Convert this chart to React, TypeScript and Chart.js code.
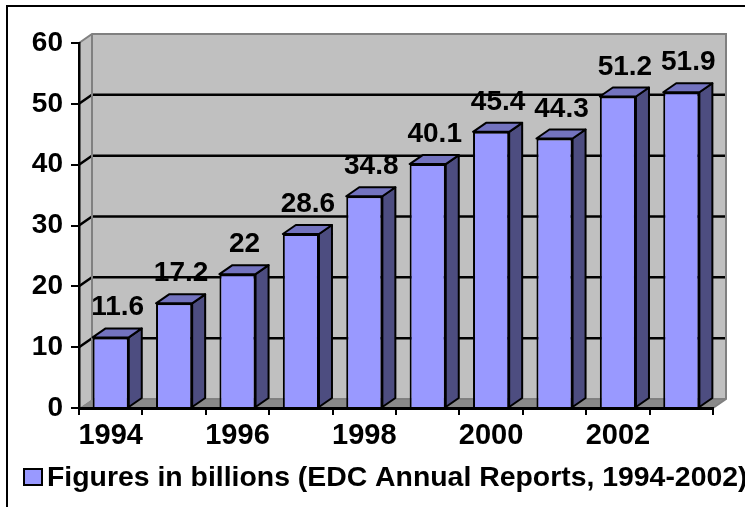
import React, { useEffect, useRef } from "react";
import { Chart, registerables } from "chart.js";

Chart.register(...registerables);

const years = ["1994", "1995", "1996", "1997", "1998", "1999", "2000", "2001", "2002", "2003"];
const values = [11.6, 17.2, 22, 28.6, 34.8, 40.1, 45.4, 44.3, 51.2, 51.9];
const valueLabels = ["11.6", "17.2", "22", "28.6", "34.8", "40.1", "45.4", "44.3", "51.2", "51.9"];
const yTicks = [0, 10, 20, 30, 40, 50, 60];
const seriesLabel = "Figures in billions (EDC Annual Reports, 1994-2002)";

const DX = 13;
const DY = -9;
const FONT = "'Liberation Sans', Arial, sans-serif";
const FRONT = "#9999FF";
const TOP = "#7373BF";
const SIDE = "#4D4D80";
const WALL = "#C0C0C0";
const WALL_EDGE = "#808080";
const FLOOR = "#8A8A8A";

const scenePlugin = {
  id: "scene3d",
  beforeDraw(chart: any) {
    const ctx = chart.ctx;
    const { left, right, top, bottom } = chart.chartArea;
    const yScale = chart.scales.y;
    ctx.save();
    ctx.fillStyle = "#fff";
    ctx.fillRect(0, 0, chart.width, chart.height);
    // outer frame
    ctx.strokeStyle = "#000";
    ctx.lineWidth = 2;
    ctx.beginPath();
    ctx.moveTo(7, chart.height + 5);
    ctx.lineTo(7, 6);
    ctx.lineTo(chart.width + 5, 6);
    ctx.stroke();
    // left wall
    ctx.fillStyle = WALL;
    ctx.beginPath();
    ctx.moveTo(left, top);
    ctx.lineTo(left + DX, top + DY);
    ctx.lineTo(left + DX, bottom + DY);
    ctx.lineTo(left, bottom);
    ctx.closePath();
    ctx.fill();
    // back wall
    ctx.fillRect(left + DX, top + DY, right - left, bottom - top);
    // floor
    ctx.fillStyle = FLOOR;
    ctx.beginPath();
    ctx.moveTo(left, bottom);
    ctx.lineTo(left + DX, bottom + DY);
    ctx.lineTo(right + DX, bottom + DY);
    ctx.lineTo(right, bottom);
    ctx.closePath();
    ctx.fill();
    // gridlines
    ctx.strokeStyle = "#000";
    ctx.lineWidth = 2.5;
    yTicks.forEach((v) => {
      if (v === yTicks[0] || v === yTicks[yTicks.length - 1]) return;
      const py = yScale.getPixelForValue(v);
      ctx.beginPath();
      ctx.moveTo(left, py);
      ctx.lineTo(left + DX, py + DY);
      ctx.lineTo(right + DX, py + DY);
      ctx.stroke();
    });
    // wall edges
    ctx.strokeStyle = WALL_EDGE;
    ctx.lineWidth = 2;
    ctx.beginPath();
    ctx.moveTo(left, top);
    ctx.lineTo(left + DX, top + DY);
    ctx.lineTo(right + DX, top + DY);
    ctx.lineTo(right + DX, bottom + DY);
    ctx.lineTo(right, bottom);
    ctx.stroke();
    ctx.beginPath();
    ctx.moveTo(left + DX, top + DY);
    ctx.lineTo(left + DX, bottom + DY);
    ctx.lineTo(right + DX, bottom + DY);
    ctx.stroke();
    ctx.restore();
  },
  afterDatasetsDraw(chart: any) {
    const ctx = chart.ctx;
    const meta = chart.getDatasetMeta(0);
    ctx.save();
    ctx.lineWidth = 2;
    ctx.lineJoin = "round";
    ctx.strokeStyle = "#000";
    meta.data.forEach((bar: any) => {
      const p = bar.getProps(["x", "y", "base", "width"], true);
      const l = p.x - p.width / 2;
      const r = p.x + p.width / 2;
      const t = p.y;
      const b = p.base;
      // side
      ctx.fillStyle = SIDE;
      ctx.beginPath();
      ctx.moveTo(r, t);
      ctx.lineTo(r + DX, t + DY);
      ctx.lineTo(r + DX, b + DY);
      ctx.lineTo(r, b);
      ctx.closePath();
      ctx.fill();
      ctx.stroke();
      // top
      ctx.fillStyle = TOP;
      ctx.beginPath();
      ctx.moveTo(l, t);
      ctx.lineTo(l + DX, t + DY);
      ctx.lineTo(r + DX, t + DY);
      ctx.lineTo(r, t);
      ctx.closePath();
      ctx.fill();
      ctx.stroke();
    });
    // data labels
    ctx.fillStyle = "#000";
    ctx.font = `bold 28px ${FONT}`;
    ctx.textAlign = "center";
    ctx.textBaseline = "alphabetic";
    meta.data.forEach((bar: any, i: number) => {
      const p = bar.getProps(["x", "y"], true);
      ctx.fillText(valueLabels[i], p.x + DX / 2 + 0.5, p.y - 22);
    });
    ctx.restore();
  },
  afterDraw(chart: any) {
    const ctx = chart.ctx;
    ctx.save();
    ctx.fillStyle = FRONT;
    ctx.fillRect(24, 469, 18, 16);
    ctx.strokeStyle = "#000";
    ctx.lineWidth = 2;
    ctx.strokeRect(24, 469, 18, 16);
    ctx.fillStyle = "#000";
    ctx.font = `bold 28.4px ${FONT}`;
    ctx.textAlign = "left";
    ctx.textBaseline = "alphabetic";
    ctx.fillText(chart.data.datasets[0].label, 47, 486);
    ctx.restore();
  },
};

export default function App() {
  const ref = useRef<HTMLCanvasElement | null>(null);
  useEffect(() => {
    if (!ref.current) return;
    const chart = new Chart(ref.current, {
      type: "bar",
      data: {
        labels: years,
        datasets: [
          {
            label: seriesLabel,
            data: values,
            backgroundColor: FRONT,
            borderColor: "#000",
            borderWidth: 2,
            barPercentage: 0.57,
            categoryPercentage: 1,
          },
        ],
      },
      options: {
        animation: false,
        responsive: false,
        devicePixelRatio: 1,
        layout: { padding: { left: 0, top: 43, right: 32, bottom: 0 } },
        plugins: { legend: { display: false }, tooltip: { enabled: false } },
        scales: {
          x: {
            grid: { offset: true, drawOnChartArea: false, drawTicks: true, tickLength: 7, color: "#000", lineWidth: 2 },
            border: { display: true, color: "#000", width: 3 },
            ticks: {
              autoSkip: false,
              maxRotation: 0,
              color: "#000",
              padding: 4,
              font: { family: FONT, size: 29, weight: "bold" },
              callback: (_v: any, i: number) => (i % 2 === 0 ? years[i] : ""),
            },
            afterFit: (s: any) => {
              s.height = 99;
            },
          },
          y: {
            min: 0,
            max: 60,
            afterBuildTicks: (s: any) => {
              s.ticks = yTicks.map((v) => ({ value: v }));
            },
            grid: { drawOnChartArea: false, drawTicks: true, tickLength: 8, color: "#000", lineWidth: 2 },
            border: { display: true, color: "#000", width: 2.5 },
            ticks: {
              color: "#000",
              padding: 8,
              font: { family: FONT, size: 28, weight: "bold" },
            },
            afterFit: (s: any) => {
              s.width = 79;
            },
          },
        },
      } as any,
      plugins: [scenePlugin],
    });
    return () => chart.destroy();
  }, []);
  return (
    <div style={{ position: "absolute", left: 0, top: 0, width: 745, height: 507, overflow: "hidden" }}>
      <canvas ref={ref} width={745} height={507} style={{ display: "block" }} />
    </div>
  );
}
